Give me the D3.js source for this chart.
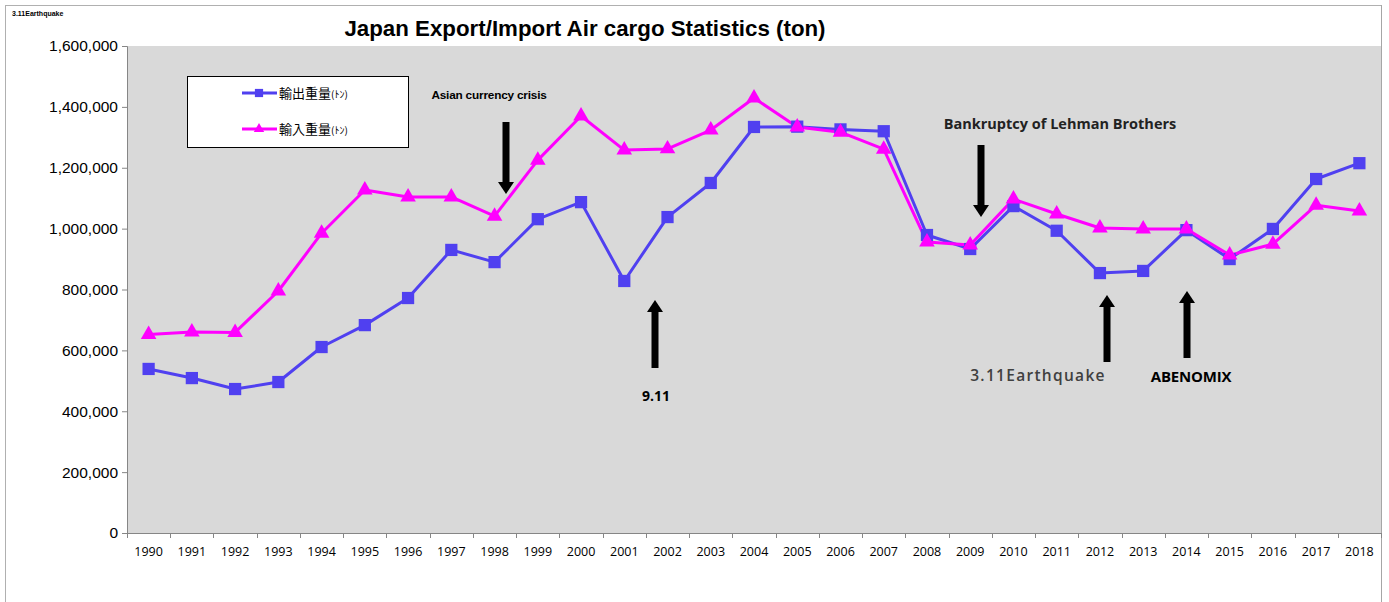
<!DOCTYPE html>
<html>
<head>
<meta charset="utf-8">
<script src="https://cdn.jsdelivr.net/npm/d3@7"></script>
<style>
  body { margin: 0; background: #fff; }
  svg { display: block; }
</style>
</head>
<body>
<div id="chart"></div>
<script>
var years = ["1990","1991","1992","1993","1994","1995","1996","1997","1998","1999",
             "2000","2001","2002","2003","2004","2005","2006","2007","2008","2009",
             "2010","2011","2012","2013","2014","2015","2016","2017","2018"];

var exportTons = [539000, 509000, 473000, 496000, 611000, 683000, 772000, 930000, 890000, 1031000,
                  1087000, 828000, 1038000, 1150000, 1334000, 1335000, 1326000, 1320000, 979000, 933000,
                  1074000, 993000, 854000, 861000, 995000, 900000, 999000, 1163000, 1215000];

var importTons = [652000, 660000, 659000, 795000, 985000, 1127000, 1104000, 1104000, 1041000, 1225000,
                  1370000, 1258000, 1262000, 1324000, 1429000, 1334000, 1317000, 1261000, 956000, 946000,
                  1097000, 1048000, 1002000, 999000, 999000, 913000, 949000, 1077000, 1058000];

var yTicks = [0, 200000, 400000, 600000, 800000, 1000000, 1200000, 1400000, 1600000];

var seriesNames = ["輸出重量", "輸入重量"];

// annotations: year the arrow points at, label, direction
var events = [
  { year: "1998", label: "Asian currency crisis", dir: "down" },
  { year: "2002", label: "9.11", dir: "up" },
  { year: "2009", label: "Bankruptcy of Lehman Brothers", dir: "down" },
  { year: "2012", label: "3.11Earthquake", dir: "up" },
  { year: "2014", label: "ABENOMIX", dir: "up" }
];

var svgWidth = 1389;
var svgHeight = 602;

var margin = { top: 46, right: 8, bottom: 69, left: 127 };
var chartWidth = 1381 - margin.left;
var chartHeight = 533 - margin.top;

var svg = d3.select("#chart")
  .append("svg")
  .attr("width", svgWidth)
  .attr("height", svgHeight);

// outer frame
svg.append("rect")
  .attr("x", 5.5).attr("y", 5.5)
  .attr("width", 1376).attr("height", 620)
  .attr("fill", "#fff")
  .attr("stroke", "#b0b0b0");

svg.append("text")
  .attr("x", 12).attr("y", 16)
  .attr("font-family", "Liberation Sans, Arial")
  .attr("font-size", 7)
  .attr("font-weight", "bold")
  .text("3.11Earthquake");

svg.append("text")
  .attr("x", 585).attr("y", 36)
  .attr("text-anchor", "middle")
  .attr("font-family", "Liberation Sans, Arial")
  .attr("font-size", 22.3)
  .attr("font-weight", "bold")
  .attr("fill", "#000")
  .text("Japan Export/Import Air cargo Statistics (ton)");

var chartGroup = svg.append("g")
  .attr("transform", `translate(${margin.left}, ${margin.top})`);

var xScale = d3.scaleBand()
  .domain(years)
  .range([0, chartWidth]);

var yScale = d3.scaleLinear()
  .domain([0, 1600000])
  .range([chartHeight, 0]);

chartGroup.append("rect")
  .attr("width", chartWidth)
  .attr("height", chartHeight)
  .attr("fill", "#d9d9d9");

// right edge line of plot
chartGroup.append("line")
  .attr("x1", chartWidth + 0.5).attr("x2", chartWidth + 0.5)
  .attr("y1", -41).attr("y2", svgHeight)
  .attr("stroke", "#a6a6a6");

var leftAxis = d3.axisLeft(yScale)
  .tickValues(yTicks)
  .tickFormat(d3.format(","))
  .tickSize(5)
  .tickPadding(4);

var yAxisG = chartGroup.append("g").call(leftAxis);
yAxisG.select(".domain").attr("stroke", "#868686");
yAxisG.selectAll(".tick line").attr("stroke", "#868686");
yAxisG.selectAll("text")
  .attr("font-family", "Liberation Sans, Arial")
  .attr("font-size", 15.5)
  .attr("fill", "#000");

var bottomAxis = d3.axisBottom(xScale).tickSize(0).tickPadding(14);
var xAxisG = chartGroup.append("g")
  .attr("transform", `translate(0, ${chartHeight})`)
  .call(bottomAxis);
xAxisG.select(".domain").attr("stroke", "#868686");
xAxisG.selectAll("text")
  .attr("font-family", "Open Sans, Lato, sans-serif")
  .attr("font-size", 12.5)
  .attr("fill", "#000");

// category boundary ticks
chartGroup.append("g")
  .selectAll("line")
  .data(years.concat(["end"]))
  .enter()
  .append("line")
  .attr("x1", (d, i) => Math.round(i * xScale.step()) + 0.5)
  .attr("x2", (d, i) => Math.round(i * xScale.step()) + 0.5)
  .attr("y1", chartHeight)
  .attr("y2", chartHeight + 5)
  .attr("stroke", "#868686");

var blue = "#5040f0";
var pink = "#ff00ff";
var cx = d => xScale(d) + xScale.bandwidth() / 2;

var series = [
  { name: seriesNames[0], values: exportTons, color: blue, marker: d3.symbolSquare, size: 150 },
  { name: seriesNames[1], values: importTons, color: pink, marker: d3.symbolTriangle, size: 105 }
];

var line = d3.line()
  .x((d, i) => cx(years[i]))
  .y(d => yScale(d));

series.forEach(s => {
  chartGroup.append("path")
    .datum(s.values)
    .attr("fill", "none")
    .attr("stroke", s.color)
    .attr("stroke-width", 3)
    .attr("stroke-linejoin", "round")
    .attr("d", line);
});

series.forEach(s => {
  chartGroup.append("g")
    .selectAll("path")
    .data(s.values)
    .enter()
    .append("path")
    .attr("d", d3.symbol().type(s.marker).size(s.size))
    .attr("transform", (d, i) => `translate(${cx(years[i])}, ${yScale(d)})`)
    .attr("fill", s.color);
});

// legend
var legend = svg.append("g");
legend.append("rect")
  .attr("x", 187.5).attr("y", 76.5)
  .attr("width", 221).attr("height", 71)
  .attr("fill", "#fff")
  .attr("stroke", "#000");

series.forEach((s, i) => {
  var ly = 93 + i * 36;
  legend.append("line")
    .attr("x1", 242).attr("x2", 277)
    .attr("y1", ly).attr("y2", ly)
    .attr("stroke", s.color).attr("stroke-width", 3);
  legend.append("path")
    .attr("d", d3.symbol().type(s.marker).size(s.size * 0.45))
    .attr("transform", `translate(259, ${ly})`)
    .attr("fill", s.color);
  var t = legend.append("text")
    .attr("x", 279).attr("y", ly + 5)
    .attr("font-family", "Noto Sans CJK JP, sans-serif")
    .attr("font-size", 13)
    .text(s.name);
  t.append("tspan").attr("font-size", 10).text("(ﾄﾝ)");
});

// event annotations
var arrowCfg = {
  "1998": { x: 506, y1: 122, y2: 194, tx: 489, ty: 99, size: 11.8, font: "Liberation Sans, Arial", weight: "bold", color: "#000", spacing: -0.2 },
  "2009": { x: 981, y1: 145, y2: 217, tx: 1060, ty: 129, size: 14.5, font: "Open Sans, Lato, sans-serif", weight: "bold", color: "#222", spacing: 0 },
  "2002": { x: 655, y1: 368, y2: 300, tx: 656, ty: 401, size: 14, font: "Open Sans, Lato, sans-serif", weight: "bold", color: "#000", spacing: 0 },
  "2012": { x: 1107, y1: 362, y2: 295, tx: 1038, ty: 381, size: 15.5, font: "Open Sans, Lato, sans-serif", weight: "600", color: "#404040", spacing: 1.3 },
  "2014": { x: 1187, y1: 358, y2: 291, tx: 1191, ty: 382, size: 15, font: "Open Sans, Lato, sans-serif", weight: "bold", color: "#000", spacing: -0.2 }
};

var annG = svg.append("g");
events.forEach(e => {
  var c = arrowCfg[e.year];
  var tipY = c.y2;
  var dirSign = e.dir === "down" ? 1 : -1;
  var headBase = tipY - dirSign * 12;
  annG.append("rect")
    .attr("x", c.x - 3.5)
    .attr("y", Math.min(c.y1, headBase))
    .attr("width", 7)
    .attr("height", Math.abs(headBase - c.y1))
    .attr("fill", "#000");
  annG.append("path")
    .attr("d", `M${c.x - 8},${headBase} L${c.x + 8},${headBase} L${c.x},${tipY} Z`)
    .attr("fill", "#000");
  annG.append("text")
    .attr("x", c.tx).attr("y", c.ty)
    .attr("text-anchor", "middle")
    .attr("font-family", c.font)
    .attr("font-size", c.size)
    .attr("font-weight", c.weight)
    .attr("letter-spacing", c.spacing)
    .attr("fill", c.color)
    .text(e.label);
});
</script>
</body>
</html>
